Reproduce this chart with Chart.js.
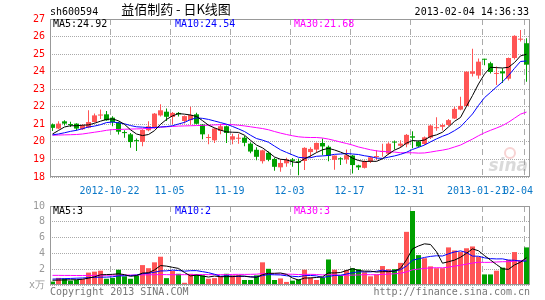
<!DOCTYPE html>
<html>
<head>
<meta charset="utf-8">
<script src="https://cdn.jsdelivr.net/npm/chart.js@4.4.0/dist/chart.umd.min.js"></script>
<style>
  html, body { margin: 0; padding: 0; background: #fff; }
  #wrap { position: relative; width: 545px; height: 300px; overflow: hidden; background: #fff; }
  #kline { position: absolute; left: 0; top: 0; }
  #vol { position: absolute; left: 0; top: 195px; }
</style>
</head>
<body>
<div id="wrap">
  <canvas id="kline" width="545" height="195"></canvas>
  <canvas id="vol" width="545" height="105"></canvas>
</div>
<script>
// daily candles, 2012-10-08 .. 2013-02-04 (80 trading days)
const opens = [21.00,20.76,21.17,21.02,21.04,20.72,20.81,21.13,21.50,21.57, 21.38,21.10,20.56,20.43,20.10,20.00,20.66,20.82,21.51,21.72,
  21.42,21.65,21.19,21.24,21.57,20.99,20.22,20.09,20.62,20.89, 20.13,20.18,20.24,19.90,19.55,18.90,19.38,19.03,18.55,18.78,
  19.00,18.90,18.91,19.42,19.56,19.94,19.72,18.98,19.06,19.00, 19.22,18.66,18.52,18.87,19.14,19.43,19.33,20.00,19.78,19.86,
  20.32,20.02,19.88,20.24,20.78,20.86,20.96,21.33,21.84,22.04, 23.88,23.78,24.72,24.48,23.87,24.02,23.60,24.78,25.82,25.62];
const highs = [21.05,21.17,21.23,21.15,21.06,21.00,21.80,21.62,21.84,21.76, 21.46,21.15,20.66,20.50,20.19,20.72,21.17,21.65,22.14,21.90,
  21.70,21.70,21.50,22.00,21.66,21.02,20.43,20.81,21.04,20.94, 20.47,20.47,20.35,19.98,19.70,19.55,19.45,19.10,19.03,19.10,
  19.08,19.05,19.70,19.70,19.96,20.19,19.80,19.22,19.12,19.56, 19.26,18.70,18.95,19.18,19.52,19.90,19.98,20.08,20.10,20.45,
  20.60,20.08,20.30,20.98,21.40,21.05,21.30,22.00,22.57,24.02, 25.30,24.75,24.73,24.56,24.30,24.20,24.80,26.08,26.37,25.90];
const lows = [20.62,20.72,20.93,20.85,20.65,20.68,20.78,21.10,21.30,21.20, 20.89,20.42,20.24,19.67,19.48,19.75,20.60,20.75,21.45,21.19,
  21.00,21.45,21.05,20.98,21.00,20.15,19.86,19.94,20.43,19.94, 19.86,19.90,19.75,19.35,18.95,18.77,18.90,18.35,18.30,18.58,
  18.58,18.10,18.40,19.10,19.40,19.24,18.90,18.42,18.68,18.76, 18.20,18.40,18.48,18.80,18.96,19.15,19.25,19.56,19.68,19.70,
  19.64,19.70,19.82,20.16,20.64,20.65,20.90,21.30,21.80,22.00, 23.72,23.60,24.37,23.90,23.24,23.35,23.50,24.70,25.72,23.42];
const closes = [20.80,21.04,21.04,20.96,20.76,20.95,21.13,21.51,21.56,21.23, 21.13,20.58,20.50,19.99,20.04,20.68,20.89,21.61,21.80,21.43,
  21.65,21.57,21.47,21.54,21.03,20.43,20.26,20.76,20.89,20.51, 20.32,20.22,19.95,19.45,19.15,19.52,18.98,18.58,18.80,19.00,
  18.92,18.82,19.66,19.60,19.94,19.74,19.20,19.22,19.01,19.24, 18.68,18.55,18.90,19.12,19.18,19.47,19.90,19.96,19.90,20.40,
  20.24,19.74,20.26,20.93,20.84,20.96,21.24,21.88,22.05,24.00, 24.02,24.57,24.68,23.98,23.92,23.90,24.78,26.04,25.88,24.40];
const ma5 = [20.45,20.65,20.85,20.92,20.92,20.95,20.97,21.06,21.18,21.28, 21.31,21.20,21.00,20.69,20.45,20.36,20.42,20.64,21.00,21.28,
  21.48,21.61,21.58,21.53,21.45,21.21,20.95,20.80,20.67,20.57, 20.55,20.54,20.38,20.09,19.82,19.66,19.41,19.14,19.01,18.98,
  18.86,18.82,19.04,19.20,19.39,19.55,19.63,19.54,19.42,19.28, 19.07,18.94,18.88,18.90,18.89,19.04,19.31,19.53,19.68,19.93,
  20.08,20.05,20.11,20.31,20.40,20.55,20.85,21.17,21.39,22.03, 22.64,23.30,23.86,24.25,24.23,24.21,24.25,24.52,24.90,24.99];
const ma10 = [20.40,20.45,20.52,20.60,20.66,20.75,20.85,20.90,20.98,21.10, 21.13,21.09,21.03,20.93,20.86,20.84,20.81,20.82,20.85,20.87,
  20.92,21.02,21.11,21.27,21.37,21.34,21.28,21.19,21.10,21.01, 20.88,20.74,20.59,20.38,20.19,20.10,19.98,19.76,19.55,19.40,
  19.26,19.12,19.09,19.10,19.18,19.20,19.23,19.29,19.31,19.34, 19.31,19.28,19.21,19.16,19.08,19.06,19.13,19.20,19.29,19.41,
  19.57,19.69,19.82,20.00,20.17,20.32,20.45,20.64,20.86,21.22, 21.59,22.08,22.52,22.82,23.13,23.42,23.78,24.19,24.58,24.61];
const ma30 = [20.38,20.39,20.40,20.41,20.42,20.45,20.50,20.55,20.60,20.66, 20.70,20.71,20.72,20.73,20.74,20.75,20.77,20.80,20.84,20.86,
  20.88,20.90,20.91,20.92,20.93,20.94,20.95,20.97,20.98,20.99, 20.98,20.95,20.91,20.86,20.81,20.76,20.69,20.59,20.50,20.42,
  20.35,20.29,20.26,20.25,20.25,20.22,20.16,20.08,19.99,19.91, 19.82,19.71,19.63,19.55,19.49,19.45,19.44,19.42,19.38,19.38,
  19.38,19.36,19.37,19.42,19.48,19.53,19.60,19.71,19.82,19.99, 20.16,20.35,20.52,20.66,20.79,20.93,21.12,21.35,21.58,21.70];

// volume, in 10k lots
const volumes = [0.43,0.90,0.83,0.55,0.63,0.75,1.57,1.69,1.81,0.79, 0.90,1.93,1.10,0.79,1.22,2.52,2.13,2.87,3.58,0.87,
  1.77,1.42,0.28,1.42,1.34,1.22,0.79,0.87,1.02,1.42, 1.22,1.22,0.63,0.63,1.22,2.87,2.05,0.63,0.83,0.39,
  0.55,0.71,1.93,0.94,0.63,0.94,3.23,1.93,1.18,1.89, 2.13,2.00,1.61,1.10,1.34,2.40,2.00,2.00,2.80,6.73,
  9.37,3.78,3.39,2.36,2.13,2.13,4.76,4.37,4.17,4.65, 4.88,3.58,1.34,1.34,1.81,2.20,3.19,4.17,3.07,4.76];
const vma5 = [0.60,0.62,0.64,0.66,0.67,0.73,0.87,1.04,1.29,1.32, 1.35,1.42,1.31,1.10,1.19,1.51,1.55,1.91,2.46,2.39,
  2.24,2.10,1.58,1.15,1.25,1.14,1.01,1.13,1.05,1.06, 1.06,1.15,1.10,1.02,0.98,1.31,1.48,1.48,1.52,1.35,
  0.89,0.62,0.88,0.90,0.95,1.03,1.53,1.53,1.58,1.83, 2.07,1.83,1.76,1.75,1.64,1.69,1.69,1.77,2.11,3.19,
  4.58,4.94,5.21,5.13,4.21,2.76,2.95,3.15,3.51,4.02, 4.57,4.33,3.72,3.16,2.59,2.05,1.98,2.54,2.88,3.47];
const vma10 = [0.75,0.77,0.80,0.83,0.86,0.89,0.93,0.97,0.99,1.00, 1.04,1.15,1.17,1.20,1.26,1.43,1.49,1.61,1.78,1.79,
  1.88,1.83,1.75,1.81,1.82,1.69,1.56,1.36,1.10,1.16, 1.10,1.08,1.12,1.04,1.02,1.19,1.32,1.29,1.27,1.17,
  1.10,1.05,1.18,1.21,1.15,0.96,1.08,1.21,1.24,1.39, 1.55,1.68,1.65,1.66,1.74,1.88,1.76,1.77,1.93,2.41,
  3.14,3.31,3.49,3.62,3.70,3.67,3.95,4.18,4.32,4.11, 3.66,3.64,3.44,3.34,3.30,3.31,3.15,3.13,3.02,3.03];
const vma30 = [1.22,1.22,1.21,1.21,1.20,1.20,1.21,1.22,1.23,1.24, 1.25,1.25,1.26,1.26,1.27,1.28,1.29,1.30,1.32,1.31,
  1.30,1.30,1.31,1.31,1.32,1.32,1.31,1.31,1.31,1.31, 1.34,1.35,1.34,1.35,1.37,1.44,1.45,1.42,1.39,1.37,
  1.36,1.32,1.35,1.35,1.33,1.28,1.32,1.29,1.21,1.24, 1.25,1.27,1.31,1.30,1.30,1.34,1.38,1.42,1.48,1.66,
  1.93,2.01,2.11,2.16,2.19,2.17,2.26,2.39,2.50,2.64, 2.78,2.88,2.86,2.87,2.91,2.95,2.95,3.03,3.09,3.18];

// date ticks (candle index -> label)
const tickIdx = [10, 20, 30, 40, 50, 60, 72, 79];
const tickLabels = ['2012-10-22', '11-05', '11-19', '12-03', '12-17', '12-31', '2013-01-21', '02-04'];

const stockCode = 'sh600594';
const title = '益佰制药 - 日K线图';
const stamp = '2013-02-04 14:36:33';
const priceMaText = ['MA5:24.92', 'MA10:24.54', 'MA30:21.68'];
const volMaText = ['MA5:3', 'MA10:2', 'MA30:3'];

const UP = '#ff5555', DOWN = '#00a000';
const MA_COLORS = ['#000000', '#0000ff', '#ff00ff'];
const MONO = '"DejaVu Sans Mono", monospace';
const SLOT = 5 / 12;  // candle centre inside its 6px slot

const candleColors = closes.map((c, i) => c >= opens[i] ? UP : DOWN);
const pts = arr => arr.map((v, i) => ({ x: i + SLOT, y: v }));
const maLine = (arr, color) => ({
    type: 'line', data: pts(arr), borderColor: color, borderWidth: 1,
    pointRadius: 0, tension: 0, order: 1
});

function frame(ctx, a) {
    ctx.strokeStyle = '#999';
    ctx.lineWidth = 1;
    ctx.strokeRect(a.left + 0.5, a.top + 0.5, a.right - a.left - 1, a.bottom - a.top - 1);
}

function xScale(h) {
    return {
        type: 'linear', min: 0, max: 80, offset: false,
        afterBuildTicks: s => { s.ticks = tickIdx.map(v => ({ value: v })); },
        afterFit: s => { s.height = h; },
        ticks: { display: false },
        grid: { offset: false, color: '#aaa', lineWidth: 1, drawTicks: false },
        border: { display: false, dash: [6, 4] }
    };
}

const klineDecor = {
    id: 'klineDecor',
    beforeDatasetsDraw(chart) {
        // faint sina watermark
        const { ctx, chartArea: a } = chart;
        ctx.save();
        ctx.strokeStyle = 'rgba(230,110,110,0.3)';
        ctx.lineWidth = 2;
        ctx.beginPath();
        ctx.arc(a.right - 20, a.bottom - 24, 5, 0, Math.PI * 2);
        ctx.stroke();
        ctx.fillStyle = 'rgba(150,150,150,0.35)';
        ctx.font = 'italic bold 17px "DejaVu Sans"';
        ctx.textAlign = 'right';
        ctx.fillText('sina', a.right - 2, a.bottom - 6);
        ctx.restore();
    },
    afterDraw(chart) {
        const { ctx, chartArea: a, scales: { x } } = chart;
        ctx.save();
        frame(ctx, a);
        ctx.font = '10px ' + MONO;
        ctx.fillStyle = '#000';
        ctx.textAlign = 'left';
        ctx.fillText(stockCode, 50, 15);
        ctx.textAlign = 'right';
        ctx.fillText(stamp, 529, 15);
        ctx.textAlign = 'left';
        [3, 125, 244].forEach((dx, i) => {
            ctx.fillStyle = MA_COLORS[i];
            ctx.fillText(priceMaText[i], a.left + dx, a.top + 8);
        });
        ctx.fillStyle = '#0a78c8';
        ctx.textAlign = 'center';
        const shift = [-0.5, -0.5, -0.5, -0.5, -0.5, -1, -5, -6];
        tickIdx.forEach((v, i) => {
            ctx.fillText(tickLabels[i], x.getPixelForValue(v) + shift[i], a.bottom + 17);
        });
        ctx.fillStyle = '#000';
        ctx.font = '13px "Noto Sans CJK SC"';
        ctx.fillText(title, 176, 14);
        ctx.restore();
    }
};

const volDecor = {
    id: 'volDecor',
    afterDraw(chart) {
        const { ctx, chartArea: a } = chart;
        ctx.save();
        frame(ctx, a);
        ctx.font = '10px ' + MONO;
        ctx.textAlign = 'left';
        [3, 125, 244].forEach((dx, i) => {
            ctx.fillStyle = MA_COLORS[i];
            ctx.fillText(volMaText[i], a.left + dx, a.top + 8);
        });
        ctx.fillStyle = '#777';
        ctx.fillText('Copyright 2013 SINA.COM', 50, 100);
        ctx.textAlign = 'right';
        ctx.fillText('http://finance.sina.com.cn', 530, 100);
        ctx.restore();
    }
};

new Chart(document.getElementById('kline'), {
    type: 'bar',
    data: {
        datasets: [
            maLine(ma5, MA_COLORS[0]),
            maLine(ma10, MA_COLORS[1]),
            maLine(ma30, MA_COLORS[2]),
            {
                data: lows.map((l, i) => ({ x: i + SLOT, y: [l, highs[i]] })),
                backgroundColor: candleColors, barThickness: 1, grouped: false,
                inflateAmount: 0, order: 3
            },
            {
                data: opens.map((o, i) => ({ x: i + SLOT, y: [o, closes[i]] })),
                backgroundColor: candleColors, barThickness: 5, minBarLength: 1,
                grouped: false, inflateAmount: 0, order: 2
            }
        ]
    },
    options: {
        responsive: false,
        animation: false,
        devicePixelRatio: 1,
        layout: { padding: { top: 19, right: 15, left: 0, bottom: 0 } },
        plugins: { legend: { display: false }, tooltip: { enabled: false } },
        scales: {
            x: xScale(18),
            y: {
                min: 18, max: 27,
                afterFit: s => { s.width = 50; },
                ticks: { stepSize: 1, color: '#ff0000', padding: 5, font: { family: MONO, size: 10 } },
                grid: { color: '#aaa', drawTicks: false },
                border: { display: false, dash: [1, 1] }
            }
        }
    },
    plugins: [klineDecor]
});

new Chart(document.getElementById('vol'), {
    type: 'bar',
    data: {
        datasets: [
            maLine(vma5, MA_COLORS[0]),
            maLine(vma10, MA_COLORS[1]),
            maLine(vma30, MA_COLORS[2]),
            {
                data: pts(volumes),
                backgroundColor: candleColors, barThickness: 5, grouped: false,
                inflateAmount: 0, order: 2
            }
        ]
    },
    options: {
        responsive: false,
        animation: false,
        devicePixelRatio: 1,
        layout: { padding: { top: 6, right: 15, left: 0, bottom: 0 } },
        plugins: { legend: { display: false }, tooltip: { enabled: false } },
        scales: {
            x: xScale(15),
            y: {
                min: 0, max: 10,
                afterFit: s => { s.width = 50; },
                ticks: {
                    stepSize: 2, color: '#999', padding: 5, font: { family: MONO, size: 10 },
                    callback: v => v === 0 ? 'x万' : v
                },
                grid: { color: '#aaa', drawTicks: false },
                border: { display: false, dash: [1, 1] }
            }
        }
    },
    plugins: [volDecor]
});
</script>
</body>
</html>
